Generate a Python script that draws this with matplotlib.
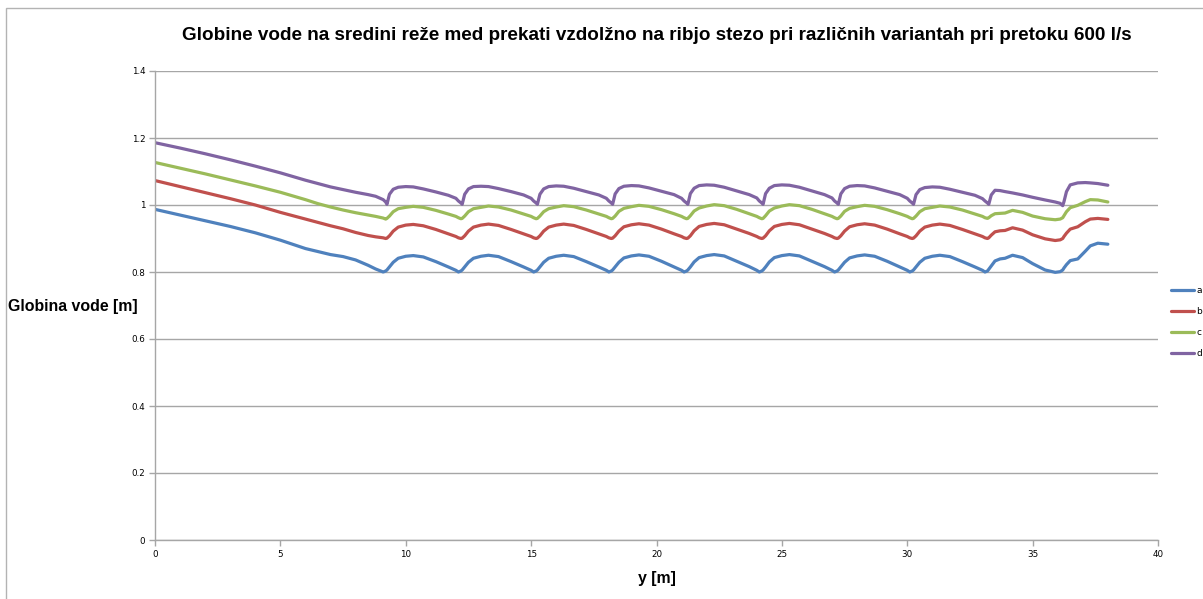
import matplotlib.pyplot as plt
from matplotlib.patches import Rectangle

# distance along the fish pass [m]
y_pos = [
    0, 1, 2, 3, 4, 5, 6, 6.5, 7, 7.5, 8, 8.5, 8.8,
    9.1, 9.2, 9.25, 9.35, 9.5, 9.7, 10.0, 10.3, 10.7, 11.2, 11.7, 12.0,
    12.1, 12.2, 12.25, 12.35, 12.5, 12.7, 13.0, 13.3, 13.7, 14.2, 14.7, 15.0,
    15.1, 15.2, 15.25, 15.35, 15.5, 15.7, 16.0, 16.3, 16.7, 17.2, 17.7, 18.0,
    18.1, 18.2, 18.25, 18.35, 18.5, 18.7, 19.0, 19.3, 19.7, 20.2, 20.7, 21.0,
    21.1, 21.2, 21.25, 21.35, 21.5, 21.7, 22.0, 22.3, 22.7, 23.2, 23.7, 24.0,
    24.1, 24.2, 24.25, 24.35, 24.5, 24.7, 25.0, 25.3, 25.7, 26.2, 26.7, 27.0,
    27.1, 27.2, 27.25, 27.35, 27.5, 27.7, 28.0, 28.3, 28.7, 29.2, 29.7, 30.0,
    30.1, 30.2, 30.25, 30.35, 30.5, 30.7, 31.0, 31.3, 31.7, 32.2, 32.7, 33.0,
    33.1, 33.2, 33.25, 33.35, 33.5, 33.7, 33.9, 34.2, 34.6, 35.0, 35.5, 35.9,
    36.1, 36.2, 36.25, 36.35, 36.5, 36.8, 37.1, 37.3, 37.6, 38.0,
]

# water depth [m] for the variants a-d
depth_a = [
    0.987, 0.970, 0.953, 0.936, 0.917, 0.895, 0.870, 0.861, 0.852, 0.846, 0.836, 0.820, 0.809,
    0.800, 0.803, 0.806, 0.815, 0.829, 0.841, 0.847, 0.849, 0.845, 0.831, 0.815, 0.805,
    0.800, 0.803, 0.806, 0.815, 0.829, 0.841, 0.847, 0.850, 0.846, 0.831, 0.815, 0.805,
    0.800, 0.803, 0.806, 0.815, 0.829, 0.841, 0.847, 0.850, 0.846, 0.831, 0.815, 0.805,
    0.800, 0.803, 0.806, 0.815, 0.829, 0.842, 0.848, 0.851, 0.847, 0.832, 0.815, 0.805,
    0.800, 0.803, 0.806, 0.815, 0.830, 0.843, 0.849, 0.852, 0.848, 0.832, 0.816, 0.805,
    0.800, 0.803, 0.806, 0.815, 0.830, 0.843, 0.849, 0.852, 0.848, 0.832, 0.816, 0.805,
    0.800, 0.803, 0.806, 0.815, 0.829, 0.842, 0.848, 0.851, 0.847, 0.832, 0.815, 0.805,
    0.800, 0.803, 0.806, 0.815, 0.829, 0.841, 0.847, 0.850, 0.846, 0.831, 0.815, 0.805,
    0.800, 0.803, 0.808, 0.818, 0.833, 0.839, 0.841, 0.850, 0.843, 0.825, 0.806, 0.799,
    0.801, 0.806, 0.812, 0.822, 0.834, 0.839, 0.862, 0.878, 0.886, 0.883,
]
depth_b = [
    1.073, 1.055, 1.037, 1.019, 1.000, 0.978, 0.958, 0.948, 0.938, 0.929, 0.918, 0.909, 0.905,
    0.902, 0.900, 0.901, 0.908, 0.922, 0.934, 0.940, 0.942, 0.938, 0.927, 0.914, 0.906,
    0.902, 0.900, 0.901, 0.908, 0.922, 0.934, 0.940, 0.943, 0.939, 0.927, 0.914, 0.906,
    0.902, 0.900, 0.901, 0.908, 0.922, 0.934, 0.940, 0.943, 0.939, 0.927, 0.914, 0.906,
    0.902, 0.900, 0.901, 0.908, 0.922, 0.935, 0.941, 0.944, 0.940, 0.928, 0.914, 0.906,
    0.902, 0.900, 0.901, 0.908, 0.923, 0.936, 0.942, 0.945, 0.941, 0.928, 0.915, 0.906,
    0.902, 0.900, 0.901, 0.908, 0.923, 0.936, 0.942, 0.945, 0.941, 0.928, 0.915, 0.906,
    0.902, 0.900, 0.901, 0.908, 0.922, 0.935, 0.941, 0.944, 0.940, 0.928, 0.914, 0.906,
    0.902, 0.900, 0.901, 0.908, 0.922, 0.934, 0.940, 0.943, 0.939, 0.927, 0.914, 0.906,
    0.902, 0.900, 0.902, 0.910, 0.920, 0.923, 0.924, 0.932, 0.925, 0.911, 0.899, 0.894,
    0.896, 0.900, 0.906, 0.916, 0.928, 0.935, 0.950, 0.958, 0.960, 0.957,
]
depth_c = [
    1.127, 1.110, 1.093, 1.075, 1.057, 1.038, 1.016, 1.004, 0.994, 0.985, 0.977, 0.970, 0.966,
    0.961, 0.958, 0.960, 0.967, 0.980, 0.989, 0.993, 0.996, 0.993, 0.984, 0.973, 0.966,
    0.962, 0.959, 0.960, 0.967, 0.980, 0.989, 0.993, 0.997, 0.994, 0.985, 0.973, 0.966,
    0.962, 0.959, 0.960, 0.967, 0.980, 0.989, 0.994, 0.998, 0.995, 0.985, 0.973, 0.966,
    0.962, 0.959, 0.960, 0.967, 0.981, 0.990, 0.995, 0.999, 0.996, 0.986, 0.974, 0.966,
    0.962, 0.959, 0.960, 0.968, 0.982, 0.991, 0.997, 1.001, 0.998, 0.987, 0.974, 0.966,
    0.962, 0.959, 0.960, 0.968, 0.982, 0.991, 0.997, 1.001, 0.998, 0.987, 0.974, 0.966,
    0.962, 0.959, 0.960, 0.967, 0.981, 0.990, 0.995, 0.999, 0.996, 0.986, 0.974, 0.966,
    0.962, 0.959, 0.960, 0.967, 0.980, 0.989, 0.993, 0.997, 0.994, 0.985, 0.973, 0.966,
    0.962, 0.960, 0.962, 0.968, 0.974, 0.975, 0.976, 0.984, 0.978, 0.967, 0.959, 0.956,
    0.958, 0.962, 0.968, 0.980, 0.992, 0.999, 1.010, 1.016, 1.015, 1.009,
]
depth_d = [
    1.186, 1.170, 1.153, 1.135, 1.116, 1.096, 1.074, 1.064, 1.054, 1.046, 1.038, 1.031, 1.026,
    1.016, 1.009, 1.002, 1.032, 1.047, 1.053, 1.055, 1.054, 1.048, 1.039, 1.029, 1.020,
    1.012, 1.006, 1.002, 1.032, 1.048, 1.055, 1.056, 1.055, 1.049, 1.040, 1.030, 1.020,
    1.012, 1.006, 1.002, 1.032, 1.048, 1.055, 1.057, 1.056, 1.050, 1.040, 1.030, 1.020,
    1.012, 1.006, 1.002, 1.033, 1.049, 1.056, 1.058, 1.057, 1.051, 1.041, 1.031, 1.020,
    1.012, 1.006, 1.002, 1.034, 1.050, 1.058, 1.060, 1.059, 1.053, 1.042, 1.031, 1.021,
    1.012, 1.006, 1.002, 1.034, 1.050, 1.058, 1.060, 1.059, 1.053, 1.042, 1.031, 1.021,
    1.012, 1.006, 1.002, 1.033, 1.049, 1.056, 1.058, 1.057, 1.051, 1.041, 1.031, 1.020,
    1.012, 1.006, 1.002, 1.031, 1.046, 1.052, 1.054, 1.053, 1.047, 1.038, 1.029, 1.019,
    1.012, 1.006, 1.002, 1.030, 1.044, 1.043, 1.040, 1.036, 1.030, 1.023, 1.015, 1.009,
    1.005, 0.998, 1.010, 1.040, 1.060, 1.066, 1.067, 1.066, 1.064, 1.059,
]

variants = ['a', 'b', 'c', 'd']
colors = ['#4F81BD', '#C0504D', '#9BBB59', '#8064A2']
series = [depth_a, depth_b, depth_c, depth_d]

W, H = 1203, 599
fig = plt.figure(figsize=(W / 100, H / 100), dpi=100)
ax = fig.add_axes([155 / W, 1 - 540 / H, 1003 / W, 469 / H])

for vals, name, col in zip(series, variants, colors):
    ax.plot(y_pos, vals, color=col, lw=2.3, label=name,
            solid_capstyle='round', solid_joinstyle='round')

ax.set_xlim(0, 40)
ax.set_ylim(0, 1.4)
ax.set_xticks(range(0, 41, 5))
ax.set_yticks([0, 0.2, 0.4, 0.6, 0.8, 1.0, 1.2, 1.4])
ax.set_yticklabels(['0', '0.2', '0.4', '0.6', '0.8', '1', '1.2', '1.4'])
ax.grid(axis='y', color='#a6a6a6', lw=1)
ax.set_axisbelow(True)
for s in ['top', 'right']:
    ax.spines[s].set_visible(False)
for s in ['left', 'bottom']:
    ax.spines[s].set_color('#a6a6a6')
    ax.spines[s].set_linewidth(1)
ax.tick_params(axis='both', colors='#a6a6a6', labelcolor='black', labelsize=6.3,
               length=4, width=1, direction='out', pad=3)

fig.text(657 / W, 1 - 35 / H,
         'Globine vode na sredini reže med prekati vzdolžno na ribjo stezo pri različnih variantah pri pretoku 600 l/s',
         ha='center', va='center', fontsize=13.6, fontweight='bold', family='Liberation Sans')
fig.text(8 / W, 1 - 306 / H, 'Globina vode [m]', ha='left', va='center',
         fontsize=11.4, fontweight='bold', family='Liberation Sans')
fig.text(657 / W, 1 - 578 / H, 'y [m]', ha='center', va='center',
         fontsize=11.4, fontweight='bold', family='Liberation Sans')

fig.legend(loc='center left', bbox_to_anchor=(1166 / W, 1 - 322 / H), frameon=False,
           fontsize=6.5, handlelength=2.6, labelspacing=1.35, handletextpad=0.25,
           borderpad=0)

# outer chart frame
fig.add_artist(Rectangle((6 / W, -0.05), 1.0, 1 - 8 / H + 0.05, transform=fig.transFigure,
                         fill=False, edgecolor='#b3b3b3', lw=1))

fig.savefig('out.png', dpi=100)
